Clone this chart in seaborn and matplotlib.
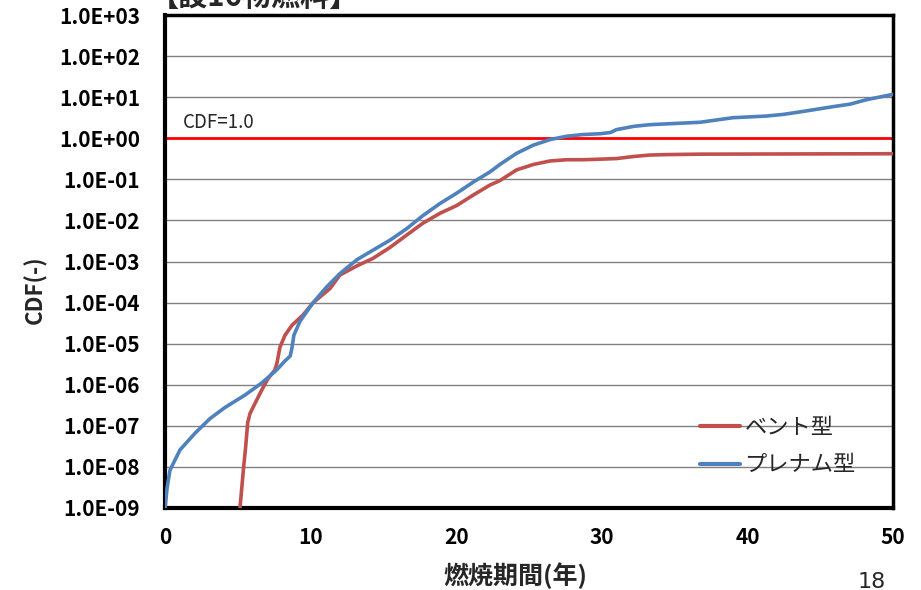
import numpy as np
import pandas as pd
import matplotlib
matplotlib.use("Agg")
import matplotlib.pyplot as plt
import matplotlib.ticker as mticker
from matplotlib.lines import Line2D
import seaborn as sns

# ---------------- data ----------------
vent_x = [5.15, 5.38, 5.54, 5.68, 5.84, 6.18, 6.64, 7.07, 7.55, 7.69, 7.9, 8.24, 8.72, 9.48,
          10.16, 11.33, 12.02, 13.17, 14.3, 15.45, 16.6, 17.7, 18.9, 20.03, 21.2, 22.3, 23.0,
          24.15, 25.3, 26.45, 27.6, 28.7, 29.9, 31.0, 32.2, 33.3, 34.45, 36.75, 50.0]
vent_y = [1.0e-9, 8.3e-9, 3.1e-8, 1.2e-7, 2.0e-7, 3.5e-7, 7.4e-7, 1.4e-6, 2.3e-6, 3.4e-6, 8.3e-6,
          1.6e-5, 2.8e-5, 5.0e-5, 9.8e-5, 2.2e-4, 4.7e-4, 7.8e-4, 1.2e-3, 2.2e-3, 4.4e-3, 8.5e-3,
          1.5e-2, 2.3e-2, 4.2e-2, 7.2e-2, 9.3e-2, 0.17, 0.23, 0.28, 0.30, 0.30, 0.31, 0.32, 0.36,
          0.39, 0.40, 0.41, 0.42]

plenum_x = [0.0, 0.15, 0.34, 1.03, 2.06, 3.09, 4.12, 5.49, 6.64, 7.67, 8.24, 8.6, 8.72, 8.85,
            9.27, 10.16, 11.1, 12.02, 13.17, 14.3, 15.45, 16.6, 17.7, 18.9, 20.03, 21.2, 22.3,
            23.0, 24.15, 25.3, 26.45, 27.6, 28.7, 29.9, 30.6, 31.0, 32.2, 33.3, 34.45, 35.6,
            36.75, 39.0, 41.3, 42.45, 43.6, 45.9, 47.05, 48.2, 50.0]
plenum_y = [1.0e-9, 3.2e-9, 8.3e-9, 2.6e-8, 6.6e-8, 1.5e-7, 2.8e-7, 5.6e-7, 1.1e-6, 2.3e-6,
            3.8e-6, 5.0e-6, 7.9e-6, 1.6e-5, 3.5e-5, 9.8e-5, 2.4e-4, 5.1e-4, 1.1e-3, 1.9e-3,
            3.3e-3, 6.3e-3, 1.3e-2, 2.6e-2, 4.6e-2, 8.7e-2, 0.15, 0.23, 0.43, 0.68, 0.93, 1.12,
            1.23, 1.29, 1.38, 1.62, 1.95, 2.14, 2.24, 2.34, 2.45, 3.16, 3.47, 3.80, 4.37, 5.89,
            6.76, 8.71, 11.7]

series_names = ["ベント型", "プレナム型"]
series_colors = ["#C0504D", "#4F81BD"]

y_tick_values = [1e-9, 1e-8, 1e-7, 1e-6, 1e-5, 1e-4, 1e-3, 1e-2, 1e-1, 1e0, 1e1, 1e2, 1e3]
y_tick_labels = ["1.0E-09", "1.0E-08", "1.0E-07", "1.0E-06", "1.0E-05", "1.0E-04", "1.0E-03",
                 "1.0E-02", "1.0E-01", "1.0E+00", "1.0E+01", "1.0E+02", "1.0E+03"]
x_tick_values = [0, 10, 20, 30, 40, 50]
cdf_ref = 1.0

title_text = "【設16物燃料】"
x_label = "燃焼期間(年)"
y_label = "CDF(-)"
ref_label = "CDF=1.0"
page_no = "18"

# ---------------- plot ----------------
sns.set_style("white")
plt.rcParams['font.family'] = ['Noto Sans CJK JP', 'DejaVu Sans']

df = pd.concat([
    pd.DataFrame({"x": vent_x, "y": vent_y, "s": series_names[0]}),
    pd.DataFrame({"x": plenum_x, "y": plenum_y, "s": series_names[1]}),
], ignore_index=True)

fig = plt.figure(figsize=(9.21, 5.90), dpi=100)
ax = fig.add_axes([165/921, 82/590, (893-165)/921, (508-15)/590])

ax.set_yscale("log")
ax.set_xlim(0, 50)
ax.set_ylim(1e-9, 1e3)

for yv in y_tick_values:
    ax.axhline(yv, color="#808080", lw=1.0, zorder=0)

ax.axhline(cdf_ref, color="#FF0000", lw=2.0, zorder=1)

sns.lineplot(data=df, x="x", y="y", hue="s", palette=series_colors, hue_order=series_names,
             sort=False, estimator=None, lw=2.6, ax=ax, legend=False, zorder=3)

ax.set_yticks(y_tick_values)
ax.set_yticklabels(y_tick_labels)
ax.yaxis.set_minor_locator(mticker.LogLocator(base=10, subs=np.arange(2, 10), numticks=30))
ax.yaxis.set_minor_formatter(mticker.NullFormatter())
ax.set_xticks(x_tick_values)
ax.xaxis.set_minor_locator(mticker.MultipleLocator(2))

ax.tick_params(axis="both", which="both", direction="in", colors="black")
ax.tick_params(axis="y", which="major", length=7, width=1.2, labelsize=15, pad=18)
ax.tick_params(axis="y", which="minor", length=4, width=1.0)
ax.tick_params(axis="x", which="major", length=7, width=1.2, labelsize=15, pad=14)
ax.tick_params(axis="x", which="minor", length=5, width=1.0, color="#555555")
for lab in ax.get_xticklabels() + ax.get_yticklabels():
    lab.set_fontweight("bold")

for sp in ["left", "bottom"]:
    ax.spines[sp].set_color("black")
    ax.spines[sp].set_linewidth(3.0)
for sp in ["top", "right"]:
    ax.spines[sp].set_color("black")
    ax.spines[sp].set_linewidth(2.5)

ax.set_xlabel("")
ax.set_ylabel("")
fig.text(35/921, 1 - 290/590, y_label, rotation=90, ha="center", va="center",
         fontsize=16, fontweight="bold")
fig.text(515/921, 1 - 576/590, x_label, ha="center", va="center", fontsize=18, fontweight="bold")

fig.text(183/921, 1 - 123/590, ref_label, ha="left", va="center", fontsize=13.5)

fig.text(150/921, 1 - 12/590, title_text, ha="left", va="bottom", fontsize=21, fontweight="bold")
fig.text(858/921, 1 - 572/590, page_no, ha="left", va="top", fontsize=16,
         family=["DejaVu Sans"])

handles = [Line2D([0], [0], color=c, lw=3) for c in series_colors]
fig.legend(handles, series_names, loc="upper left",
           bbox_to_anchor=(680/921, 1 - 396/590), frameon=False, fontsize=16,
           handlelength=1.8, handletextpad=0.2, labelspacing=0.65)

fig.savefig("out.png", dpi=100)
